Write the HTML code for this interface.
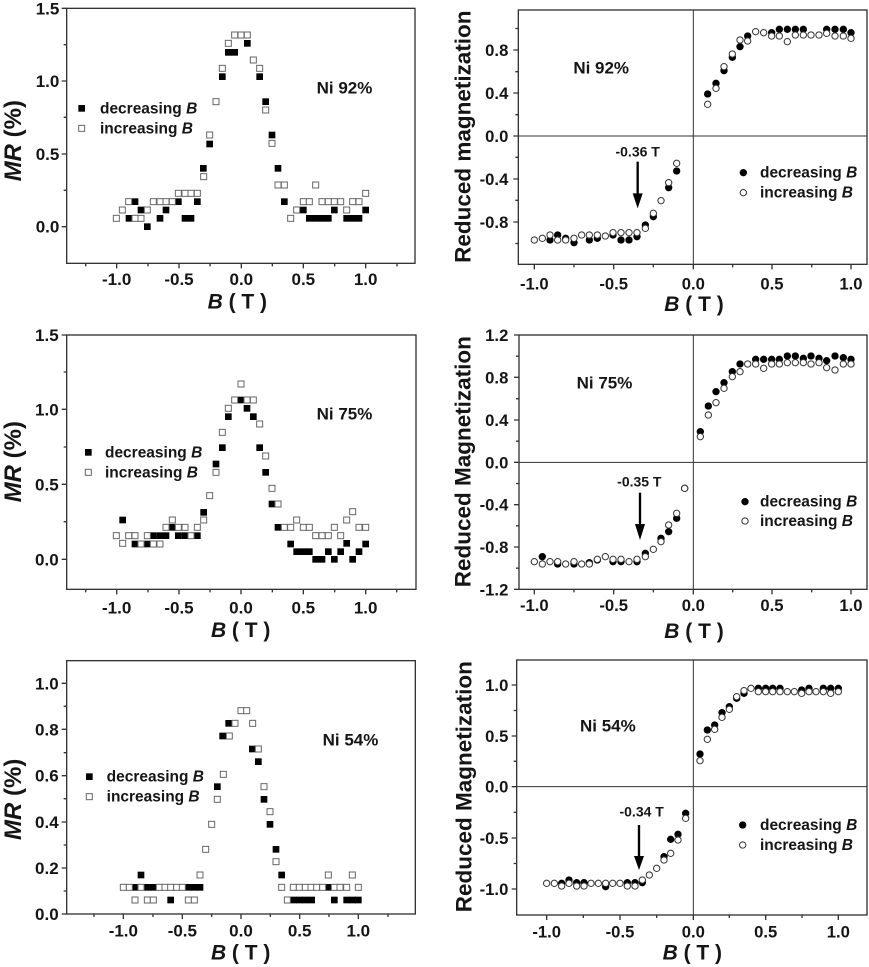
<!DOCTYPE html>
<html>
<head>
<meta charset="utf-8">
<style>
html,body{margin:0;padding:0;background:#fff;}
svg{display:block;}
.t{font-family:"Liberation Sans",Arial,sans-serif;font-weight:bold;fill:#151515;}
.ax{fill:none;stroke:#333;stroke-width:4;}
.tk{fill:none;stroke:#333;stroke-width:4;}
.cx{fill:none;stroke:#333;stroke-width:3;}
</style>
</head>
<body>
<svg width="869" height="967" viewBox="0 0 869 967" xmlns="http://www.w3.org/2000/svg" xmlns:xlink="http://www.w3.org/1999/xlink">
<defs>
<rect id="fs" x="-10" y="-10" width="20" height="20" fill="#000"/>
<rect id="os" x="-9" y="-9" width="18" height="18" fill="#fff" stroke="#666" stroke-width="3"/>
<circle id="fc" r="11" fill="#000"/>
<circle id="oc" r="9.5" fill="#fff" stroke="#333" stroke-width="3"/>
</defs>
<rect x="0" y="0" width="869" height="967" fill="#fff"/>

<!-- ===== Panel 1: MR Ni 92% ===== -->
<g transform="translate(0,0) scale(0.333333)">
<rect class="ax" x="200" y="25" width="1045" height="765"/>
<path class="tk" d="M200,25h-15M200,243h-15M200,462h-15M200,680h-15M200,134h-9M200,352h-9M200,571h-9
M350,790v15M537,790v15M724,790v15M910,790v15M1097,790v15M257,790v9M444,790v9M630,790v9M817,790v9M1004,790v9M1191,790v9"/>
<g class="t" font-size="51" text-anchor="end">
<text x="178" y="43">1.5</text><text x="178" y="261">1.0</text><text x="178" y="480">0.5</text><text x="178" y="698">0.0</text>
</g>
<g class="t" font-size="51" text-anchor="middle">
<text x="350" y="855">-1.0</text><text x="537" y="855">-0.5</text><text x="724" y="855">0.0</text><text x="910" y="855">0.5</text><text x="1097" y="855">1.0</text>
</g>
<text class="t" x="712" y="925" font-size="63" text-anchor="middle"><tspan font-style="italic">B</tspan> ( T )</text>
<text class="t" transform="translate(63,422) rotate(-90)" font-size="72" text-anchor="middle"><tspan font-style="italic">MR</tspan> (%)</text>
<use xlink:href="#fs" x="245" y="325"/><use xlink:href="#os" x="245" y="385"/>
<text class="t" x="300" y="340" font-size="46.5">decreasing <tspan font-style="italic">B</tspan></text>
<text class="t" x="300" y="400" font-size="46.5">increasing <tspan font-style="italic">B</tspan></text>
<text class="t" x="950" y="280" font-size="51">Ni 92%</text>
<g>
<use xlink:href="#fs" x="387" y="655"/><use xlink:href="#fs" x="405" y="605"/><use xlink:href="#fs" x="423" y="630"/><use xlink:href="#fs" x="442" y="680"/><use xlink:href="#fs" x="480" y="655"/><use xlink:href="#fs" x="498" y="630"/><use xlink:href="#fs" x="535" y="605"/><use xlink:href="#fs" x="555" y="655"/><use xlink:href="#fs" x="573" y="655"/><use xlink:href="#fs" x="592" y="605"/><use xlink:href="#fs" x="610" y="505"/><use xlink:href="#fs" x="629" y="432"/><use xlink:href="#fs" x="667" y="230"/><use xlink:href="#fs" x="685" y="157"/><use xlink:href="#fs" x="704" y="157"/><use xlink:href="#fs" x="742" y="130"/><use xlink:href="#fs" x="779" y="230"/><use xlink:href="#fs" x="797" y="305"/><use xlink:href="#fs" x="816" y="405"/><use xlink:href="#fs" x="834" y="505"/><use xlink:href="#fs" x="853" y="605"/><use xlink:href="#fs" x="910" y="630"/><use xlink:href="#fs" x="928" y="655"/><use xlink:href="#fs" x="947" y="655"/><use xlink:href="#fs" x="966" y="655"/><use xlink:href="#fs" x="985" y="655"/><use xlink:href="#fs" x="1003" y="630"/><use xlink:href="#fs" x="1040" y="655"/><use xlink:href="#fs" x="1058" y="655"/><use xlink:href="#fs" x="1077" y="655"/><use xlink:href="#fs" x="1097" y="630"/>
</g>
<g>
<use xlink:href="#os" x="349" y="655"/><use xlink:href="#os" x="367" y="630"/><use xlink:href="#os" x="386" y="605"/><use xlink:href="#os" x="405" y="655"/><use xlink:href="#os" x="423" y="655"/><use xlink:href="#os" x="442" y="630"/><use xlink:href="#os" x="460" y="605"/><use xlink:href="#os" x="480" y="605"/><use xlink:href="#os" x="498" y="605"/><use xlink:href="#os" x="517" y="605"/><use xlink:href="#os" x="535" y="580"/><use xlink:href="#os" x="555" y="580"/><use xlink:href="#os" x="573" y="580"/><use xlink:href="#os" x="592" y="580"/><use xlink:href="#os" x="611" y="530"/><use xlink:href="#os" x="629" y="405"/><use xlink:href="#os" x="648" y="305"/><use xlink:href="#os" x="667" y="205"/><use xlink:href="#os" x="685" y="130"/><use xlink:href="#os" x="704" y="105"/><use xlink:href="#os" x="723" y="105"/><use xlink:href="#os" x="742" y="105"/><use xlink:href="#os" x="760" y="180"/><use xlink:href="#os" x="779" y="205"/><use xlink:href="#os" x="797" y="330"/><use xlink:href="#os" x="816" y="430"/><use xlink:href="#os" x="834" y="555"/><use xlink:href="#os" x="853" y="555"/><use xlink:href="#os" x="872" y="655"/><use xlink:href="#os" x="890" y="630"/><use xlink:href="#os" x="910" y="605"/><use xlink:href="#os" x="928" y="605"/><use xlink:href="#os" x="947" y="555"/><use xlink:href="#os" x="966" y="605"/><use xlink:href="#os" x="985" y="605"/><use xlink:href="#os" x="1003" y="605"/><use xlink:href="#os" x="1022" y="605"/><use xlink:href="#os" x="1040" y="630"/><use xlink:href="#os" x="1058" y="605"/><use xlink:href="#os" x="1077" y="605"/><use xlink:href="#os" x="1097" y="580"/>
</g>
</g>

<!-- ===== Panel 2: Magnetization Ni 92% ===== -->
<g transform="translate(440,0) scale(0.333333)">
<rect class="ax" x="235" y="30" width="1046" height="763"/>
<path class="cx" d="M760,30V793M235,408H1281"/>
<path class="tk" d="M235,150h-15M235,279h-15M235,408h-15M235,537h-15M235,666h-15M235,85.5h-9M235,215h-9M235,344h-9M235,472h-9M235,601h-9M235,730.5h-9
M283,793v15M521,793v15M760,793v15M996,793v15M1233,793v15M402,793v9M640,793v9M878,793v9M1115,793v9"/>
<g class="t" font-size="50" text-anchor="end">
<text x="205" y="168">0.8</text><text x="205" y="297">0.4</text><text x="205" y="426">0.0</text><text x="205" y="555">-0.4</text><text x="205" y="684">-0.8</text>
</g>
<g class="t" font-size="50" text-anchor="middle">
<text x="283" y="868">-1.0</text><text x="521" y="868">-0.5</text><text x="760" y="868">0.0</text><text x="996" y="868">0.5</text><text x="1233" y="868">1.0</text>
</g>
<text class="t" x="762" y="933" font-size="63" text-anchor="middle"><tspan font-style="italic">B</tspan> ( T )</text>
<text class="t" transform="translate(92,410) rotate(-90)" font-size="67.5" text-anchor="middle">Reduced magnetization</text>
<use xlink:href="#fc" x="910" y="518"/><use xlink:href="#oc" x="910" y="578"/>
<text class="t" x="960" y="533" font-size="46.5">decreasing <tspan font-style="italic">B</tspan></text>
<text class="t" x="960" y="593" font-size="46.5">increasing <tspan font-style="italic">B</tspan></text>
<text class="t" x="400" y="220" font-size="51">Ni 92%</text>
<text class="t" x="593" y="470" font-size="42" text-anchor="middle">-0.36 T</text>
<path d="M593,485V590" stroke="#000" stroke-width="7" fill="none"/>
<polygon points="578,580 608,580 593,625" fill="#000"/>
<g>
<use xlink:href="#fc" x="330" y="720"/><use xlink:href="#fc" x="353" y="705"/><use xlink:href="#fc" x="377" y="715"/><use xlink:href="#fc" x="402" y="728"/><use xlink:href="#fc" x="448" y="720"/><use xlink:href="#fc" x="472" y="715"/><use xlink:href="#fc" x="519" y="705"/><use xlink:href="#fc" x="543" y="720"/><use xlink:href="#fc" x="567" y="720"/><use xlink:href="#fc" x="591" y="710"/><use xlink:href="#fc" x="616" y="675"/><use xlink:href="#fc" x="640" y="650"/><use xlink:href="#fc" x="686" y="563"/><use xlink:href="#fc" x="710" y="513"/><use xlink:href="#fc" x="803" y="282"/><use xlink:href="#fc" x="828" y="250"/><use xlink:href="#fc" x="852" y="212"/><use xlink:href="#fc" x="877" y="172"/><use xlink:href="#fc" x="900" y="140"/><use xlink:href="#fc" x="923" y="108"/><use xlink:href="#fc" x="995" y="98"/><use xlink:href="#fc" x="1018" y="88"/><use xlink:href="#fc" x="1042" y="88"/><use xlink:href="#fc" x="1066" y="88"/><use xlink:href="#fc" x="1090" y="88"/><use xlink:href="#fc" x="1160" y="88"/><use xlink:href="#fc" x="1185" y="88"/><use xlink:href="#fc" x="1210" y="88"/><use xlink:href="#fc" x="1233" y="98"/>
</g>
<g>
<use xlink:href="#oc" x="283" y="720"/><use xlink:href="#oc" x="307" y="715"/><use xlink:href="#oc" x="330" y="705"/><use xlink:href="#oc" x="353" y="720"/><use xlink:href="#oc" x="377" y="720"/><use xlink:href="#oc" x="402" y="715"/><use xlink:href="#oc" x="425" y="705"/><use xlink:href="#oc" x="448" y="705"/><use xlink:href="#oc" x="472" y="705"/><use xlink:href="#oc" x="496" y="708"/><use xlink:href="#oc" x="519" y="698"/><use xlink:href="#oc" x="543" y="698"/><use xlink:href="#oc" x="567" y="698"/><use xlink:href="#oc" x="591" y="698"/><use xlink:href="#oc" x="616" y="685"/><use xlink:href="#oc" x="640" y="640"/><use xlink:href="#oc" x="663" y="602"/><use xlink:href="#oc" x="686" y="548"/><use xlink:href="#oc" x="710" y="490"/><use xlink:href="#oc" x="803" y="313"/><use xlink:href="#oc" x="828" y="265"/><use xlink:href="#oc" x="852" y="200"/><use xlink:href="#oc" x="877" y="162"/><use xlink:href="#oc" x="900" y="120"/><use xlink:href="#oc" x="923" y="123"/><use xlink:href="#oc" x="947" y="95"/><use xlink:href="#oc" x="971" y="98"/><use xlink:href="#oc" x="995" y="108"/><use xlink:href="#oc" x="1018" y="108"/><use xlink:href="#oc" x="1042" y="125"/><use xlink:href="#oc" x="1066" y="105"/><use xlink:href="#oc" x="1090" y="105"/><use xlink:href="#oc" x="1113" y="105"/><use xlink:href="#oc" x="1137" y="105"/><use xlink:href="#oc" x="1160" y="100"/><use xlink:href="#oc" x="1185" y="108"/><use xlink:href="#oc" x="1210" y="108"/><use xlink:href="#oc" x="1233" y="115"/>
</g>
</g>

<!-- ===== Panel 3: MR Ni 75% ===== -->
<g transform="translate(0,320) scale(0.333333)">
<rect class="ax" x="200" y="45" width="1048" height="763"/>
<path class="tk" d="M200,45h-15M200,268h-15M200,493h-15M200,718h-15M200,156h-9M200,381h-9M200,605h-9
M350,808v15M537,808v15M723,808v15M910,808v15M1097,808v15M257,808v9M444,808v9M630,808v9M817,808v9M1004,808v9M1190,808v9"/>
<g class="t" font-size="51" text-anchor="end">
<text x="176" y="63">1.5</text><text x="176" y="286">1.0</text><text x="176" y="511">0.5</text><text x="176" y="736">0.0</text>
</g>
<g class="t" font-size="51" text-anchor="middle">
<text x="350" y="880">-1.0</text><text x="537" y="880">-0.5</text><text x="723" y="880">0.0</text><text x="910" y="880">0.5</text><text x="1097" y="880">1.0</text>
</g>
<text class="t" x="722" y="951" font-size="63" text-anchor="middle"><tspan font-style="italic">B</tspan> ( T )</text>
<text class="t" transform="translate(63,425) rotate(-90)" font-size="72" text-anchor="middle"><tspan font-style="italic">MR</tspan> (%)</text>
<use xlink:href="#fs" x="265" y="397"/><use xlink:href="#os" x="265" y="457"/>
<text class="t" x="315" y="412" font-size="46.5">decreasing <tspan font-style="italic">B</tspan></text>
<text class="t" x="315" y="472" font-size="46.5">increasing <tspan font-style="italic">B</tspan></text>
<text class="t" x="950" y="298" font-size="51">Ni 75%</text>
<g>
<use xlink:href="#fs" x="368" y="600"/><use xlink:href="#fs" x="405" y="672"/><use xlink:href="#fs" x="442" y="672"/><use xlink:href="#fs" x="460" y="647"/><use xlink:href="#fs" x="480" y="647"/><use xlink:href="#fs" x="498" y="647"/><use xlink:href="#fs" x="517" y="622"/><use xlink:href="#fs" x="535" y="647"/><use xlink:href="#fs" x="555" y="647"/><use xlink:href="#fs" x="592" y="647"/><use xlink:href="#fs" x="611" y="577"/><use xlink:href="#fs" x="648" y="432"/><use xlink:href="#fs" x="667" y="383"/><use xlink:href="#fs" x="685" y="290"/><use xlink:href="#fs" x="723" y="240"/><use xlink:href="#fs" x="741" y="265"/><use xlink:href="#fs" x="760" y="290"/><use xlink:href="#fs" x="779" y="383"/><use xlink:href="#fs" x="797" y="457"/><use xlink:href="#fs" x="816" y="552"/><use xlink:href="#fs" x="834" y="622"/><use xlink:href="#fs" x="872" y="672"/><use xlink:href="#fs" x="890" y="695"/><use xlink:href="#fs" x="910" y="695"/><use xlink:href="#fs" x="928" y="695"/><use xlink:href="#fs" x="947" y="718"/><use xlink:href="#fs" x="966" y="718"/><use xlink:href="#fs" x="985" y="695"/><use xlink:href="#fs" x="1003" y="718"/><use xlink:href="#fs" x="1022" y="695"/><use xlink:href="#fs" x="1040" y="670"/><use xlink:href="#fs" x="1058" y="718"/><use xlink:href="#fs" x="1077" y="695"/><use xlink:href="#fs" x="1097" y="672"/>
</g>
<g>
<use xlink:href="#os" x="349" y="647"/><use xlink:href="#os" x="368" y="670"/><use xlink:href="#os" x="386" y="647"/><use xlink:href="#os" x="405" y="647"/><use xlink:href="#os" x="423" y="672"/><use xlink:href="#os" x="442" y="647"/><use xlink:href="#os" x="460" y="672"/><use xlink:href="#os" x="480" y="672"/><use xlink:href="#os" x="498" y="622"/><use xlink:href="#os" x="517" y="600"/><use xlink:href="#os" x="535" y="622"/><use xlink:href="#os" x="555" y="622"/><use xlink:href="#os" x="573" y="647"/><use xlink:href="#os" x="592" y="622"/><use xlink:href="#os" x="611" y="600"/><use xlink:href="#os" x="629" y="527"/><use xlink:href="#os" x="648" y="457"/><use xlink:href="#os" x="667" y="337"/><use xlink:href="#os" x="685" y="265"/><use xlink:href="#os" x="704" y="240"/><use xlink:href="#os" x="723" y="192"/><use xlink:href="#os" x="741" y="240"/><use xlink:href="#os" x="760" y="240"/><use xlink:href="#os" x="779" y="312"/><use xlink:href="#os" x="797" y="408"/><use xlink:href="#os" x="816" y="505"/><use xlink:href="#os" x="834" y="552"/><use xlink:href="#os" x="853" y="622"/><use xlink:href="#os" x="872" y="622"/><use xlink:href="#os" x="890" y="600"/><use xlink:href="#os" x="910" y="622"/><use xlink:href="#os" x="928" y="622"/><use xlink:href="#os" x="947" y="647"/><use xlink:href="#os" x="966" y="647"/><use xlink:href="#os" x="985" y="647"/><use xlink:href="#os" x="1003" y="622"/><use xlink:href="#os" x="1022" y="647"/><use xlink:href="#os" x="1040" y="600"/><use xlink:href="#os" x="1058" y="575"/><use xlink:href="#os" x="1077" y="622"/><use xlink:href="#os" x="1097" y="622"/>
</g>
</g>

<!-- ===== Panel 4: Magnetization Ni 75% ===== -->
<g transform="translate(440,320) scale(0.333333)">
<rect class="ax" x="237" y="45" width="1044" height="763"/>
<path class="cx" d="M760,45V808M237,427H1281"/>
<path class="tk" d="M237,45h-15M237,172h-15M237,300h-15M237,427h-15M237,554h-15M237,681h-15M237,808h-15M237,108.5h-9M237,236h-9M237,363.5h-9M237,490.5h-9M237,617.5h-9M237,744.5h-9
M283,808v15M521,808v15M760,808v15M996,808v15M1233,808v15M402,808v9M640,808v9M878,808v9M1115,808v9"/>
<g class="t" font-size="50" text-anchor="end">
<text x="205" y="63">1.2</text><text x="205" y="190">0.8</text><text x="205" y="318">0.4</text><text x="205" y="445">0.0</text><text x="205" y="572">-0.4</text><text x="205" y="699">-0.8</text><text x="205" y="826">-1.2</text>
</g>
<g class="t" font-size="50" text-anchor="middle">
<text x="283" y="873">-1.0</text><text x="521" y="873">-0.5</text><text x="760" y="873">0.0</text><text x="996" y="873">0.5</text><text x="1233" y="873">1.0</text>
</g>
<text class="t" x="762" y="954" font-size="63" text-anchor="middle"><tspan font-style="italic">B</tspan> ( T )</text>
<text class="t" transform="translate(92,425) rotate(-90)" font-size="67.5" text-anchor="middle">Reduced Magnetization</text>
<use xlink:href="#fc" x="915" y="545"/><use xlink:href="#oc" x="915" y="603"/>
<text class="t" x="960" y="560" font-size="46.5">decreasing <tspan font-style="italic">B</tspan></text>
<text class="t" x="960" y="618" font-size="46.5">increasing <tspan font-style="italic">B</tspan></text>
<text class="t" x="410" y="205" font-size="51">Ni 75%</text>
<text class="t" x="598" y="500" font-size="42" text-anchor="middle">-0.35 T</text>
<path d="M600,518V620" stroke="#000" stroke-width="7" fill="none"/>
<polygon points="585,612 615,612 600,660" fill="#000"/>
<g>
<use xlink:href="#fc" x="307" y="710"/><use xlink:href="#fc" x="353" y="732"/><use xlink:href="#fc" x="402" y="732"/><use xlink:href="#fc" x="448" y="728"/><use xlink:href="#fc" x="472" y="720"/><use xlink:href="#fc" x="519" y="725"/><use xlink:href="#fc" x="543" y="725"/><use xlink:href="#fc" x="591" y="725"/><use xlink:href="#fc" x="616" y="700"/><use xlink:href="#fc" x="663" y="655"/><use xlink:href="#fc" x="686" y="635"/><use xlink:href="#fc" x="710" y="595"/><use xlink:href="#fc" x="734" y="505"/><use xlink:href="#fc" x="781" y="335"/><use xlink:href="#fc" x="805" y="258"/><use xlink:href="#fc" x="828" y="215"/><use xlink:href="#fc" x="852" y="188"/><use xlink:href="#fc" x="877" y="155"/><use xlink:href="#fc" x="900" y="132"/><use xlink:href="#fc" x="947" y="118"/><use xlink:href="#fc" x="971" y="118"/><use xlink:href="#fc" x="995" y="118"/><use xlink:href="#fc" x="1018" y="118"/><use xlink:href="#fc" x="1042" y="108"/><use xlink:href="#fc" x="1066" y="108"/><use xlink:href="#fc" x="1090" y="115"/><use xlink:href="#fc" x="1113" y="108"/><use xlink:href="#fc" x="1137" y="115"/><use xlink:href="#fc" x="1160" y="122"/><use xlink:href="#fc" x="1185" y="108"/><use xlink:href="#fc" x="1210" y="113"/><use xlink:href="#fc" x="1233" y="118"/>
</g>
<g>
<use xlink:href="#oc" x="283" y="725"/><use xlink:href="#oc" x="307" y="732"/><use xlink:href="#oc" x="330" y="725"/><use xlink:href="#oc" x="353" y="725"/><use xlink:href="#oc" x="377" y="732"/><use xlink:href="#oc" x="402" y="725"/><use xlink:href="#oc" x="425" y="732"/><use xlink:href="#oc" x="448" y="732"/><use xlink:href="#oc" x="472" y="718"/><use xlink:href="#oc" x="496" y="710"/><use xlink:href="#oc" x="519" y="718"/><use xlink:href="#oc" x="543" y="718"/><use xlink:href="#oc" x="567" y="725"/><use xlink:href="#oc" x="591" y="718"/><use xlink:href="#oc" x="616" y="710"/><use xlink:href="#oc" x="640" y="688"/><use xlink:href="#oc" x="663" y="665"/><use xlink:href="#oc" x="686" y="615"/><use xlink:href="#oc" x="710" y="580"/><use xlink:href="#oc" x="734" y="505"/><use xlink:href="#oc" x="781" y="350"/><use xlink:href="#oc" x="805" y="285"/><use xlink:href="#oc" x="828" y="248"/><use xlink:href="#oc" x="852" y="205"/><use xlink:href="#oc" x="877" y="170"/><use xlink:href="#oc" x="900" y="155"/><use xlink:href="#oc" x="923" y="132"/><use xlink:href="#oc" x="947" y="132"/><use xlink:href="#oc" x="971" y="145"/><use xlink:href="#oc" x="995" y="132"/><use xlink:href="#oc" x="1018" y="132"/><use xlink:href="#oc" x="1042" y="128"/><use xlink:href="#oc" x="1066" y="128"/><use xlink:href="#oc" x="1090" y="128"/><use xlink:href="#oc" x="1113" y="132"/><use xlink:href="#oc" x="1137" y="128"/><use xlink:href="#oc" x="1160" y="143"/><use xlink:href="#oc" x="1185" y="150"/><use xlink:href="#oc" x="1210" y="132"/><use xlink:href="#oc" x="1233" y="132"/>
</g>
</g>

<!-- ===== Panel 5: MR Ni 54% ===== -->
<g transform="translate(0,640) scale(0.333333)">
<rect class="ax" x="200" y="62" width="1046" height="760"/>
<path class="tk" d="M200,822h-15M200,684h-15M200,546h-15M200,407h-15M200,268h-15M200,130h-15M200,753h-9M200,615h-9M200,476h-9M200,338h-9M200,199h-9
M370,822v15M547,822v15M723,822v15M899,822v15M1075,822v15M282,822v9M459,822v9M635,822v9M811,822v9M987,822v9M1164,822v9"/>
<g class="t" font-size="51" text-anchor="end">
<text x="176" y="148">1.0</text><text x="176" y="286">0.8</text><text x="176" y="425">0.6</text><text x="176" y="564">0.4</text><text x="176" y="702">0.2</text><text x="176" y="840">0.0</text>
</g>
<g class="t" font-size="51" text-anchor="middle">
<text x="370" y="890">-1.0</text><text x="547" y="890">-0.5</text><text x="723" y="890">0.0</text><text x="899" y="890">0.5</text><text x="1075" y="890">1.0</text>
</g>
<text class="t" x="722" y="958" font-size="63" text-anchor="middle"><tspan font-style="italic">B</tspan> ( T )</text>
<text class="t" transform="translate(63,478) rotate(-90)" font-size="72" text-anchor="middle"><tspan font-style="italic">MR</tspan> (%)</text>
<use xlink:href="#fs" x="268" y="410"/><use xlink:href="#os" x="268" y="470"/>
<text class="t" x="320" y="425" font-size="46.5">decreasing <tspan font-style="italic">B</tspan></text>
<text class="t" x="320" y="485" font-size="46.5">increasing <tspan font-style="italic">B</tspan></text>
<text class="t" x="968" y="316" font-size="51">Ni 54%</text>
<g>
<use xlink:href="#fs" x="405" y="742"/><use xlink:href="#fs" x="423" y="705"/><use xlink:href="#fs" x="442" y="742"/><use xlink:href="#fs" x="460" y="742"/><use xlink:href="#fs" x="512" y="780"/><use xlink:href="#fs" x="565" y="742"/><use xlink:href="#fs" x="583" y="742"/><use xlink:href="#fs" x="600" y="742"/><use xlink:href="#fs" x="652" y="440"/><use xlink:href="#fs" x="668" y="288"/><use xlink:href="#fs" x="686" y="250"/><use xlink:href="#fs" x="757" y="327"/><use xlink:href="#fs" x="775" y="365"/><use xlink:href="#fs" x="792" y="478"/><use xlink:href="#fs" x="810" y="553"/><use xlink:href="#fs" x="828" y="628"/><use xlink:href="#fs" x="845" y="705"/><use xlink:href="#fs" x="880" y="780"/><use xlink:href="#fs" x="898" y="780"/><use xlink:href="#fs" x="916" y="780"/><use xlink:href="#fs" x="935" y="780"/><use xlink:href="#fs" x="985" y="742"/><use xlink:href="#fs" x="1003" y="780"/><use xlink:href="#fs" x="1040" y="780"/><use xlink:href="#fs" x="1058" y="780"/><use xlink:href="#fs" x="1075" y="780"/>
</g>
<g>
<use xlink:href="#os" x="370" y="742"/><use xlink:href="#os" x="388" y="742"/><use xlink:href="#os" x="405" y="780"/><use xlink:href="#os" x="423" y="742"/><use xlink:href="#os" x="442" y="780"/><use xlink:href="#os" x="460" y="780"/><use xlink:href="#os" x="478" y="742"/><use xlink:href="#os" x="495" y="742"/><use xlink:href="#os" x="512" y="742"/><use xlink:href="#os" x="530" y="742"/><use xlink:href="#os" x="547" y="742"/><use xlink:href="#os" x="565" y="780"/><use xlink:href="#os" x="583" y="780"/><use xlink:href="#os" x="600" y="705"/><use xlink:href="#os" x="617" y="628"/><use xlink:href="#os" x="635" y="553"/><use xlink:href="#os" x="652" y="478"/><use xlink:href="#os" x="670" y="403"/><use xlink:href="#os" x="688" y="288"/><use xlink:href="#os" x="705" y="250"/><use xlink:href="#os" x="723" y="212"/><use xlink:href="#os" x="740" y="212"/><use xlink:href="#os" x="758" y="250"/><use xlink:href="#os" x="775" y="327"/><use xlink:href="#os" x="792" y="440"/><use xlink:href="#os" x="810" y="515"/><use xlink:href="#os" x="828" y="665"/><use xlink:href="#os" x="845" y="742"/><use xlink:href="#os" x="862" y="780"/><use xlink:href="#os" x="880" y="742"/><use xlink:href="#os" x="898" y="742"/><use xlink:href="#os" x="916" y="742"/><use xlink:href="#os" x="933" y="742"/><use xlink:href="#os" x="950" y="742"/><use xlink:href="#os" x="968" y="742"/><use xlink:href="#os" x="985" y="705"/><use xlink:href="#os" x="1003" y="742"/><use xlink:href="#os" x="1020" y="742"/><use xlink:href="#os" x="1040" y="742"/><use xlink:href="#os" x="1057" y="705"/><use xlink:href="#os" x="1075" y="742"/>
</g>
</g>

<!-- ===== Panel 6: Magnetization Ni 54% ===== -->
<g transform="translate(440,640) scale(0.333333)">
<rect class="ax" x="230" y="60" width="1051" height="765"/>
<path class="cx" d="M760,60V825M230,440H1281"/>
<path class="tk" d="M230,135h-15M230,288h-15M230,440h-15M230,594h-15M230,747h-15M230,211.5h-9M230,364h-9M230,517h-9M230,670.5h-9
M320,825v15M540,825v15M760,825v15M977,825v15M1195,825v15M430,825v9M650,825v9M868,825v9M1086,825v9"/>
<g class="t" font-size="50" text-anchor="end">
<text x="205" y="153">1.0</text><text x="205" y="306">0.5</text><text x="205" y="458">0.0</text><text x="205" y="612">-0.5</text><text x="205" y="765">-1.0</text>
</g>
<g class="t" font-size="50" text-anchor="middle">
<text x="320" y="893">-1.0</text><text x="540" y="893">-0.5</text><text x="760" y="893">0.0</text><text x="977" y="893">0.5</text><text x="1195" y="893">1.0</text>
</g>
<text class="t" x="757" y="958" font-size="63" text-anchor="middle"><tspan font-style="italic">B</tspan> ( T )</text>
<text class="t" transform="translate(95,440) rotate(-90)" font-size="67.5" text-anchor="middle">Reduced Magnetization</text>
<use xlink:href="#fc" x="908" y="555"/><use xlink:href="#oc" x="908" y="615"/>
<text class="t" x="960" y="570" font-size="46.5">decreasing <tspan font-style="italic">B</tspan></text>
<text class="t" x="960" y="630" font-size="46.5">increasing <tspan font-style="italic">B</tspan></text>
<text class="t" x="420" y="275" font-size="51">Ni 54%</text>
<text class="t" x="605" y="530" font-size="42" text-anchor="middle">-0.34 T</text>
<path d="M597,555V655" stroke="#000" stroke-width="7" fill="none"/>
<polygon points="582,648 612,648 597,690" fill="#000"/>
<g>
<use xlink:href="#fc" x="365" y="730"/><use xlink:href="#fc" x="387" y="720"/><use xlink:href="#fc" x="410" y="728"/><use xlink:href="#fc" x="432" y="728"/><use xlink:href="#fc" x="497" y="740"/><use xlink:href="#fc" x="562" y="728"/><use xlink:href="#fc" x="585" y="728"/><use xlink:href="#fc" x="607" y="728"/><use xlink:href="#fc" x="672" y="650"/><use xlink:href="#fc" x="692" y="598"/><use xlink:href="#fc" x="714" y="583"/><use xlink:href="#fc" x="737" y="520"/><use xlink:href="#fc" x="780" y="342"/><use xlink:href="#fc" x="802" y="270"/><use xlink:href="#fc" x="824" y="255"/><use xlink:href="#fc" x="846" y="218"/><use xlink:href="#fc" x="868" y="200"/><use xlink:href="#fc" x="890" y="175"/><use xlink:href="#fc" x="912" y="160"/><use xlink:href="#fc" x="955" y="145"/><use xlink:href="#fc" x="977" y="145"/><use xlink:href="#fc" x="998" y="145"/><use xlink:href="#fc" x="1020" y="145"/><use xlink:href="#fc" x="1085" y="150"/><use xlink:href="#fc" x="1107" y="145"/><use xlink:href="#fc" x="1150" y="145"/><use xlink:href="#fc" x="1172" y="145"/><use xlink:href="#fc" x="1195" y="145"/>
</g>
<g>
<use xlink:href="#oc" x="320" y="730"/><use xlink:href="#oc" x="343" y="730"/><use xlink:href="#oc" x="365" y="738"/><use xlink:href="#oc" x="387" y="730"/><use xlink:href="#oc" x="410" y="738"/><use xlink:href="#oc" x="432" y="738"/><use xlink:href="#oc" x="453" y="730"/><use xlink:href="#oc" x="475" y="730"/><use xlink:href="#oc" x="497" y="730"/><use xlink:href="#oc" x="518" y="730"/><use xlink:href="#oc" x="540" y="730"/><use xlink:href="#oc" x="562" y="738"/><use xlink:href="#oc" x="585" y="738"/><use xlink:href="#oc" x="607" y="720"/><use xlink:href="#oc" x="628" y="705"/><use xlink:href="#oc" x="650" y="685"/><use xlink:href="#oc" x="672" y="660"/><use xlink:href="#oc" x="692" y="640"/><use xlink:href="#oc" x="714" y="600"/><use xlink:href="#oc" x="737" y="535"/><use xlink:href="#oc" x="780" y="362"/><use xlink:href="#oc" x="802" y="298"/><use xlink:href="#oc" x="824" y="268"/><use xlink:href="#oc" x="846" y="232"/><use xlink:href="#oc" x="868" y="208"/><use xlink:href="#oc" x="890" y="170"/><use xlink:href="#oc" x="912" y="152"/><use xlink:href="#oc" x="933" y="145"/><use xlink:href="#oc" x="955" y="155"/><use xlink:href="#oc" x="977" y="155"/><use xlink:href="#oc" x="998" y="155"/><use xlink:href="#oc" x="1020" y="155"/><use xlink:href="#oc" x="1042" y="155"/><use xlink:href="#oc" x="1063" y="155"/><use xlink:href="#oc" x="1085" y="160"/><use xlink:href="#oc" x="1107" y="155"/><use xlink:href="#oc" x="1128" y="155"/><use xlink:href="#oc" x="1150" y="155"/><use xlink:href="#oc" x="1172" y="160"/><use xlink:href="#oc" x="1195" y="155"/>
</g>
</g>
</svg>
</body>
</html>
